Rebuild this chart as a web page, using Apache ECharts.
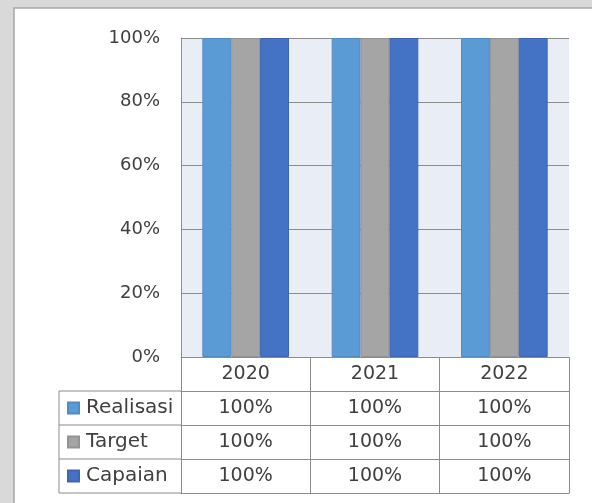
<!DOCTYPE html>
<html><head><meta charset="utf-8">
<script src="https://cdn.jsdelivr.net/npm/echarts@6/dist/echarts.min.js"></script>
<style>html,body{margin:0;padding:0;background:#d9d9d9}#c{width:592px;height:503px}</style>
</head><body><div id="c"></div>
<script>
const categories = ['2020', '2021', '2022'];
const seriesNames = ['Realisasi', 'Target', 'Capaian'];
const realisasi = [100, 100, 100];
const target = [100, 100, 100];
const capaian = [100, 100, 100];
const yTicks = [0, 20, 40, 60, 80, 100];

const colors = ['#5b9bd5', '#a5a5a5', '#4472c4'];
const borders = ['#4f8cc4', '#939393', '#3c66b2'];
const values = [realisasi, target, capaian];
const font = 'DejaVu Sans';
const txt = '#404040';
const line = '#8c8c8c';
const rowH = 34;
const G = {left: 181, top: 38, width: 388, height: 319};

const xAxes = [];
for (let k = 0; k <= values.length + 1; k++) {
  const isLast = k === values.length + 1;
  xAxes.push({
    type: 'category', data: categories, position: 'bottom', offset: k * rowH,
    boundaryGap: true,
    axisLine: {show: true, lineStyle: {color: line, width: 1}},
    axisTick: {show: !isLast, length: rowH, interval: 0, lineStyle: {color: line, width: 1}},
    axisLabel: {
      show: !isLast, interval: 0, margin: 8, fontFamily: font, fontSize: 19, color: txt,
      formatter: (v, i) => k === 0 ? v : values[k - 1][i] + '%'
    },
    splitLine: {show: false}
  });
}

const graphic = [{type: 'rect', z: -100, shape: {x: 14, y: 8, width: 700, height: 700},
  style: {fill: '#ffffff', stroke: '#a6a6a6', lineWidth: 1.5}}];
const tableTop = G.top + G.height + rowH;
for (let r = 0; r <= values.length; r++) {
  graphic.push({type: 'line', shape: {x1: 59, y1: tableTop + r * rowH, x2: G.left, y2: tableTop + r * rowH},
    style: {stroke: line, lineWidth: 1}});
}
graphic.push({type: 'line', shape: {x1: 59, y1: tableTop, x2: 59, y2: tableTop + values.length * rowH},
  style: {stroke: line, lineWidth: 1}});

const option = {
  backgroundColor: '#d9d9d9',
  animation: false,
  graphic: graphic,
  grid: {left: G.left, top: G.top, width: G.width, height: G.height, show: true,
    backgroundColor: '#e9edf6', borderWidth: 0},
  legend: {
    orient: 'vertical', left: 67, top: tableTop + 7, itemWidth: 11, itemHeight: 11,
    itemGap: rowH - 20, icon: 'rect', data: seriesNames,
    textStyle: {fontFamily: font, fontSize: 20, color: txt, lineHeight: 20, padding: [0, 0, 0, 2]},
    padding: 0
  },
  xAxis: xAxes,
  yAxis: {
    type: 'value', min: 0, max: 100, interval: 20,
    axisLine: {show: true, lineStyle: {color: line, width: 1}},
    axisTick: {show: false},
    axisLabel: {formatter: '{value}%', fontFamily: font, fontSize: 18, color: txt, margin: 21,
      verticalAlign: 'middle', padding: [6, 0, 0, 0]},
    splitLine: {show: true, lineStyle: {color: line, width: 1}}
  },
  series: seriesNames.map((n, i) => ({
    name: n, type: 'bar', data: values[i], xAxisIndex: 0,
    barGap: '0%', barCategoryGap: '33%',
    itemStyle: {color: colors[i], borderColor: borders[i], borderWidth: 1}
  }))
};
const chart = echarts.init(document.getElementById('c'), null, {renderer: 'canvas'});
chart.setOption(option);
</script></body></html>
